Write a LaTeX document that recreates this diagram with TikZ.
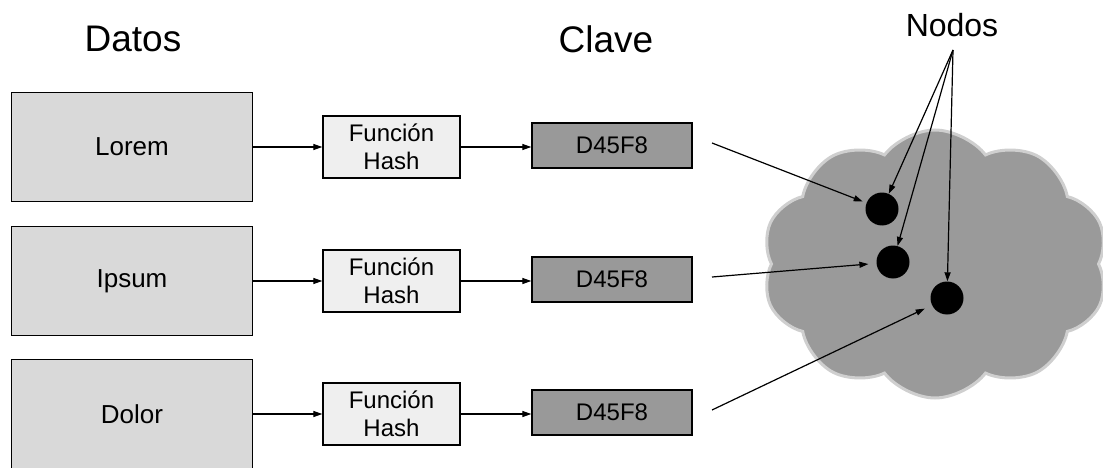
\documentclass[tikz,border=0pt]{standalone}
\usepackage{fontspec}
\setmainfont{Liberation Sans}
\usetikzlibrary{shapes.symbols,arrows.meta}
\definecolor{datgray}{HTML}{D9D9D9}
\definecolor{hashgray}{HTML}{EFEFEF}
\definecolor{keygray}{HTML}{999999}
\definecolor{cloudgray}{HTML}{9A9A9A}
\definecolor{cloudedge}{HTML}{CFCFCF}
\tikzset{
  datbox/.style={draw, line width=1.3pt, fill=datgray, minimum width=241pt, minimum height=109pt, font=\fontsize{26}{30}\selectfont},
  hashbox/.style={draw, line width=1.3pt, fill=hashgray, minimum width=137pt, minimum height=62pt, align=center, inner sep=0pt, font=\fontsize{24}{28}\selectfont},
  keybox/.style={draw, line width=1.3pt, fill=keygray, minimum width=160pt, minimum height=45pt, font=\fontsize{24}{28}\selectfont},
  dot/.style={circle, fill=black, minimum width=31pt, minimum height=33pt, inner sep=0pt},
  flow/.style={line width=1.2pt, -{Triangle[length=9pt,width=6pt]}},
  title/.style={font=\fontsize{37}{42}\selectfont}
}
\begin{document}
\begin{tikzpicture}[x=1pt,y=-1pt]
  \useasboundingbox (0,0) rectangle (1103,468);
  % titulos
  \node[title] (datos) at (133,39) {Datos};
  \node[title] (clave) at (606,39) {Clave};
  \node[font=\fontsize{32}{36}\selectfont] (nodos) at (952,25) {Nodos};
  % nube
  \node[cloud, cloud puffs=10, cloud puff arc=105, aspect=1.3, fill=cloudgray, draw=cloudedge, line width=3pt, minimum width=346pt, minimum height=268pt] (nube) at (935,264) {};
  \node[dot] (n1) at (882,209) {};
  \node[dot] (n2) at (893,262) {};
  \node[dot] (n3) at (947,298) {};
  % filas
  \foreach \i/\txt/\y in {1/Lorem/147, 2/Ipsum/281, 3/Dolor/414} {
    \node[datbox] (d\i) at (132,\y) {\txt};
    \node[hashbox] (h\i) at (391.5,\y) {Función\\Hash};
    \node[keybox] (k\i) at (612,\y-1.5) {D45F8};
    \draw[flow] (d\i) -- (h\i);
    \draw[flow] (h\i) -- (h\i -| k\i.west);
    \coordinate (s\i) at (712,\y-4);
  }
  \draw[flow, shorten >=4pt] (s1) -- (n1);
  \draw[flow, shorten >=8pt] (s2) -- (n2);
  \draw[flow, shorten >=8pt] (s3) -- (n3);
  \coordinate (top) at (953,50);
  \draw[flow] (top) -- (n1);
  \draw[flow] (top) -- (n2);
  \draw[flow] (top) -- (n3);
\end{tikzpicture}
\end{document}
